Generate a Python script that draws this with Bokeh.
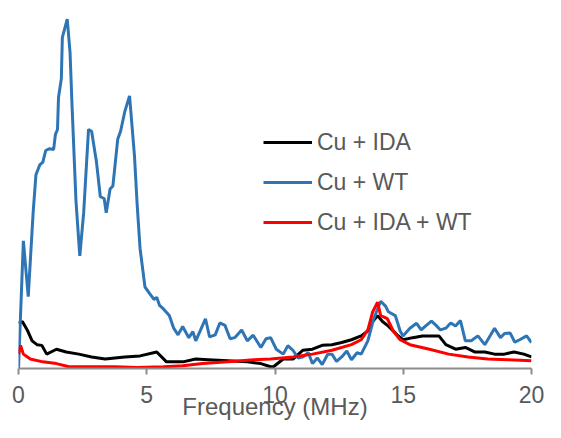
from bokeh.plotting import figure
from bokeh.models import Range1d, FixedTicker, Legend, LegendItem
from bokeh.embed import file_html
from bokeh.resources import INLINE

# Frequency (MHz) and intensity (a.u.)
wt_x = [0.00, 0.19, 0.38, 0.57, 0.68, 0.83, 0.95, 1.06, 1.21, 1.37, 1.44, 1.52, 1.56, 1.67,
        1.71, 1.90, 2.01, 2.09, 2.24, 2.39, 2.54, 2.73, 2.85, 3.04, 3.19, 3.34, 3.42, 3.57,
        3.68, 3.87, 3.98, 4.14, 4.33, 4.52, 4.63, 4.74, 4.93, 5.10, 5.28, 5.39, 5.50, 5.65,
        5.88, 6.05, 6.22, 6.40, 6.64, 6.80, 6.91, 7.10, 7.29, 7.45, 7.67, 7.85, 8.05, 8.25,
        8.43, 8.70, 8.92, 9.15, 9.45, 9.65, 9.83, 10.05, 10.32, 10.50, 10.70, 10.90, 11.08,
        11.30, 11.46, 11.65, 11.84, 12.05, 12.22, 12.40, 12.60, 12.80, 12.98, 13.20, 13.36,
        13.62, 13.85, 14.12, 14.31, 14.42, 14.69, 14.88, 14.99, 15.26, 15.52, 15.70, 15.90,
        16.10, 16.28, 16.45, 16.66, 16.85, 17.04, 17.23, 17.42, 17.65, 17.91, 18.18, 18.40,
        18.56, 18.79, 18.95, 19.17, 19.35, 19.54, 19.81, 20.00]
wt_y = [0.0, 36.4, 20.5, 44.4, 55.3, 58.1, 58.9, 62.2, 62.7, 62.5, 66.8, 68.2, 77.3, 82.7,
        94.5, 99.7, 90.1, 74.5, 47.9, 32.1, 44.4, 68.2, 67.7, 58.9, 49.0, 48.5, 44.4, 51.2,
        52.1, 65.5, 67.7, 73.2, 77.8, 60.8, 46.3, 34.2, 23.3, 21.5, 19.7, 20.3, 18.0, 17.0,
        15.1, 11.5, 9.6, 12.0, 8.8, 10.5, 7.9, 11.0, 14.2, 9.0, 9.6, 13.0, 12.3, 8.5,
        8.8, 11.0, 7.9, 9.5, 6.0, 8.5, 8.8, 5.5, 4.1, 6.5, 5.2, 3.0, 3.3,
        4.5, 1.4, 3.0, 1.1, 4.0, 4.1, 2.0, 3.3, 5.0, 2.5, 4.5, 4.1,
        7.9, 14.2, 19.2, 17.8, 16.2, 15.1, 10.7, 9.3, 11.5, 12.9, 11.0, 12.3,
        13.5, 12.3, 11.0, 11.5, 13.0, 12.1, 13.7, 7.9, 7.9, 9.3, 6.8, 9.5,
        11.5, 8.8, 10.0, 10.1, 7.5, 8.2, 9.3, 7.4]

ida_x = [0.00, 0.15, 0.34, 0.53, 0.72, 0.91, 1.10, 1.48, 1.86, 2.35, 2.85, 3.38, 4.14, 4.74,
         5.39, 5.77, 6.41, 6.91, 7.40, 8.16, 8.92, 9.45, 9.83, 9.94, 10.32, 10.70, 11.08,
         11.46, 11.84, 12.22, 12.60, 12.98, 13.36, 13.62, 13.81, 14.00, 14.19, 14.42, 14.76,
         14.99, 15.37, 15.75, 16.13, 16.39, 16.66, 17.04, 17.42, 17.80, 18.18, 18.56, 18.94,
         19.32, 19.70, 20.00]
ida_y = [12.9, 13.4, 11.0, 7.9, 6.8, 6.6, 4.1, 5.5, 4.7, 4.1, 3.3, 2.7, 3.3, 3.6,
         4.7, 1.9, 1.9, 2.7, 2.5, 2.2, 1.9, 1.4, 0.5, 0.5, 2.7, 2.7, 5.2,
         5.5, 6.6, 6.8, 7.4, 8.2, 9.3, 10.7, 13.4, 15.1, 13.4, 12.1, 9.6,
         8.2, 8.8, 9.3, 9.3, 9.3, 6.8, 5.5, 6.0, 4.7, 4.7, 4.1, 4.1,
         4.7, 4.1, 3.3]

mix_x = [0.00, 0.08, 0.19, 0.46, 0.95, 1.48, 1.97, 2.85, 3.76, 4.63, 5.65, 6.41, 7.17, 8.16,
         9.18, 9.83, 10.70, 11.46, 12.22, 12.98, 13.36, 13.62, 13.81, 14.00, 14.12, 14.38,
         14.61, 14.88, 15.26, 16.02, 16.77, 17.53, 18.29, 19.05, 20.00]
mix_y = [4.1, 6.6, 4.1, 2.7, 1.9, 1.4, 0.5, 0.5, 0.5, 0.3, 0.5, 0.8, 1.4, 1.9,
         2.5, 2.7, 3.3, 4.1, 5.2, 6.8, 8.2, 11.0, 16.2, 18.9, 15.1, 14.2,
         10.7, 8.2, 6.8, 5.5, 4.1, 3.3, 2.7, 2.5, 2.2]

x_ticks = [0, 5, 10, 15, 20]
series_names = ["Cu + IDA", "Cu + WT", "Cu + IDA + WT"]

p = figure(width=545, height=422, output_backend="svg", toolbar_location=None,
           x_range=Range1d(0, 20), y_range=Range1d(0, 101),
           min_border_left=18, min_border_right=14, min_border_top=14, min_border_bottom=0)
p.outline_line_color = None
p.xgrid.visible = False
p.ygrid.visible = False
p.yaxis.visible = False

r_ida = p.line(ida_x, ida_y, line_color="#000000", line_width=3)
r_wt = p.line(wt_x, wt_y, line_color="#2E75B6", line_width=3)
r_mix = p.line(mix_x, mix_y, line_color="#FF0000", line_width=3)

ax = p.xaxis[0]
ax.ticker = FixedTicker(ticks=x_ticks)
ax.minor_tick_line_color = None
ax.axis_line_color = "#8C8C8C"
ax.axis_line_width = 2
ax.major_tick_line_color = "#8C8C8C"
ax.major_tick_line_width = 2
ax.major_tick_out = 6
ax.major_tick_in = 0
ax.major_label_text_font = "Liberation Sans"
ax.major_label_text_font_size = "23px"
ax.major_label_text_color = "#595959"
ax.major_label_standoff = 11
ax.axis_label = "Frequency (MHz)"
ax.axis_label_text_font = "Liberation Sans"
ax.axis_label_text_font_size = "24px"
ax.axis_label_text_font_style = "normal"
ax.axis_label_text_color = "#595959"
ax.axis_label_standoff = -13

legend = Legend(items=[LegendItem(label=series_names[0], renderers=[r_ida]),
                       LegendItem(label=series_names[1], renderers=[r_wt]),
                       LegendItem(label=series_names[2], renderers=[r_mix])],
                location=(245, 126), padding=0, margin=0, spacing=0,
                glyph_width=49, glyph_height=40, label_height=40, label_standoff=5,
                label_text_font="Liberation Sans", label_text_font_size="23px",
                label_text_color="#595959", border_line_alpha=0, background_fill_alpha=0)
p.add_layout(legend, "center")

open("out.html", "w").write(file_html(p, INLINE))
